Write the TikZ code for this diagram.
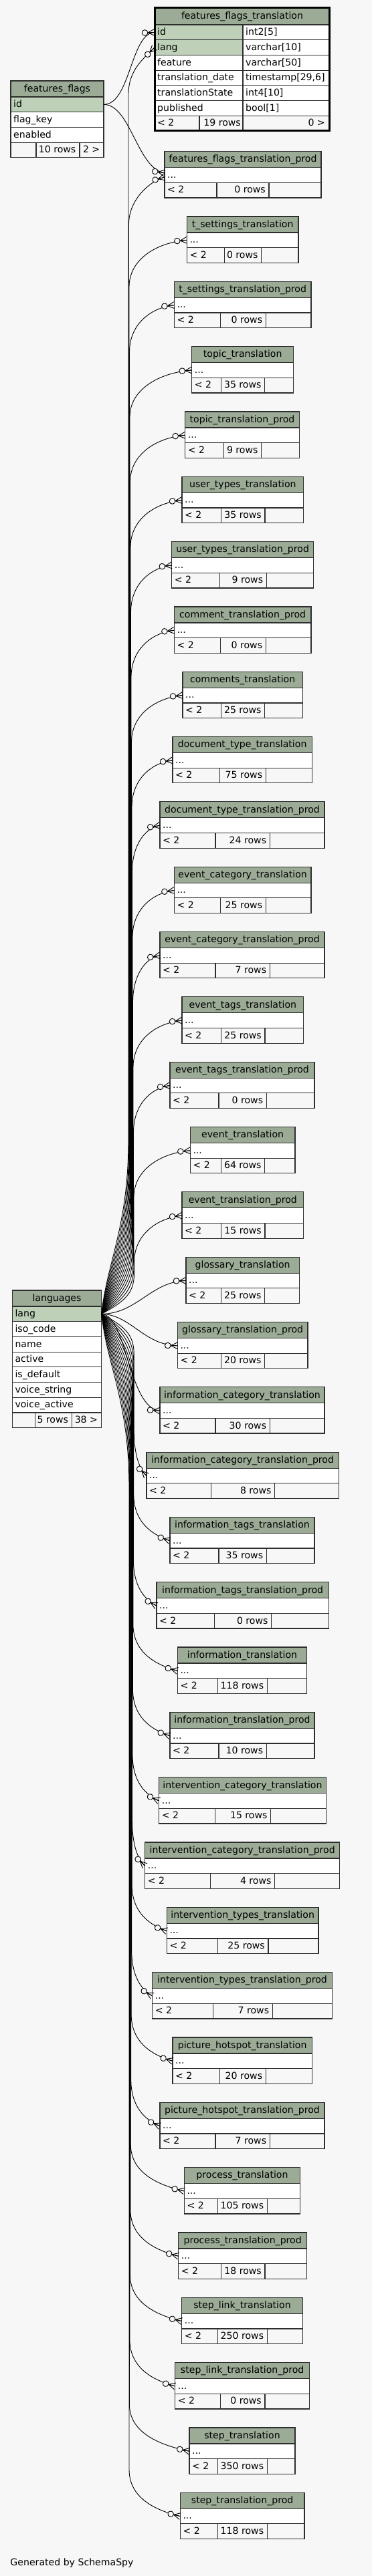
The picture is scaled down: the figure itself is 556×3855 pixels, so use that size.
\documentclass[tikz,border=0pt]{standalone}
\usepackage{fontspec}
\setmainfont{DejaVu Sans}
\usetikzlibrary{calc}
\definecolor{bgc}{HTML}{F7F7F7}
\definecolor{hdr}{HTML}{9BAB96}
\definecolor{pk}{HTML}{BED1B8}
\definecolor{bord}{HTML}{2E2E2E}
\tikzset{
  cell/.style={draw=bord, line width=1.2pt, inner sep=0pt, outer sep=0pt, anchor=north west},
  txt/.style={inner sep=0pt, text=black},
  fkedge/.style={line width=0.9pt, draw=black},
  crowline/.style={line width=0.9pt, draw=black},
}
% crow's foot with open circle at point #1, line direction angle #2 (canvas degrees)
\newcommand\crowmark[2]{%
  \begin{scope}[shift={(#1)}, rotate=#2]
    \draw[crowline] (-10pt,0pt) -- (0pt,5pt) (-10pt,0pt) -- (0pt,-5pt) (-10pt,0pt) -- (0pt,0pt);
    \draw[crowline, fill=bgc] (-14.5pt,0pt) circle (4.3pt);
  \end{scope}%
}
% small table: #1 name #2 title #3 L #4 R #5 d1 #6 d2 #7 k #8 rows
\newcommand\stbl[8]{%
  \pgfmathsetmacro\tbtop{324+97.32*#7}%
  \node[cell, fill=hdr, minimum width={(#4-#3)*1pt}, minimum height=24pt] (#1-t) at (#3,\tbtop) {};
  \node[txt, anchor=base] (#1-tx) at ($(#1-t.center)+(0,4.3)$) {#2};
  \node[cell, fill=white, minimum width={(#4-#3)*1pt}, minimum height=22.65pt] (#1-r) at (#3,\tbtop+24) {};
  \node[txt, anchor=base west] (#1-rx) at ($(#1-r.west)+(4,4.3)$) {...};
  \node[cell, fill=bgc, minimum width={(#5-#3)*1pt}, minimum height=22.65pt] (#1-f1) at (#3,\tbtop+46.65) {};
  \node[cell, fill=bgc, minimum width={(#6-#5)*1pt}, minimum height=22.65pt] (#1-f2) at (#5,\tbtop+46.65) {};
  \node[cell, fill=bgc, minimum width={(#4-#6)*1pt}, minimum height=22.65pt] (#1-f3) at (#6,\tbtop+46.65) {};
  \node[txt, anchor=base west] (#1-f1x) at ($(#1-f1.west)+(4,4.3)$) {< 2};
  \node[txt, anchor=base east] (#1-f2x) at ($(#1-f2.east)+(-5,4.3)$) {#8 rows};
}
% edge from languages upward: #1 name #2 k #3 L
\newcommand\upedge[3]{%
  \pgfmathsetmacro\xb{192+0.5*(#2+2)}%
  \pgfmathsetmacro\yt{359.33+97.32*#2}%
  \pgfmathsetmacro\cx{#3-0.55*(#3-\xb)}%
  \pgfmathsetmacro\ang{atan2(4,#3-\cx)}%
  \pgfmathsetmacro\fanf{(#2+2)/17}%
  \pgfmathsetmacro\fane{1906-200*(1-\fanf)}%
  \pgfmathsetmacro\fanx{160+25*\fanf}%
  \pgfmathsetmacro\fany{1966.3-0.3*(1966.3-\fane)}%
  \pgfmathsetmacro\fanz{1966.3-0.5*(1966.3-\fane)}%
  \draw[fkedge] (lang-r1.east) .. controls (\fanx,\fany) and (\xb,\fanz) .. (\xb,\fane) -- (\xb,\yt+70) .. controls (\xb,\yt+30) and (\cx,\yt+4) .. (#1-r.west);
  \crowmark{#1-r.west}{\ang}
}
\newcommand\downedge[3]{%
  \pgfmathsetmacro\xb{193+0.45*(35-#2)}%
  \pgfmathsetmacro\yt{359.33+97.32*#2}%
  \pgfmathsetmacro\cx{#3-0.55*(#3-\xb)}%
  \pgfmathsetmacro\ang{atan2(-10,#3-\cx)}%
  \pgfmathsetmacro\fanf{(35-#2)/16}%
  \pgfmathsetmacro\fane{2026+200*(1-\fanf)}%
  \pgfmathsetmacro\fanx{160+25*\fanf}%
  \pgfmathsetmacro\fany{1966.3+0.3*(\fane-1966.3)}%
  \pgfmathsetmacro\fanz{1966.3+0.5*(\fane-1966.3)}%
  \draw[fkedge] (lang-r1.east) .. controls (\fanx,\fany) and (\xb,\fanz) .. (\xb,\fane) -- (\xb,\yt-70) .. controls (\xb,\yt-30) and (\cx,\yt-10) .. (#1-r.west);
  \crowmark{#1-r.west}{\ang}
}
% two-column row of features_flags_translation
\newcommand\frow[5]{%
  \node[cell, fill=#5, minimum width=132pt, minimum height=22.7pt] (#1-n) at (231,#2) {};
  \node[cell, fill=white, minimum width=130pt, minimum height=22.7pt] (#1-y) at (363,#2) {};
  \node[txt, anchor=base west] (#1-nx) at ($(#1-n.west)+(4,4.3)$) {#3};
  \node[txt, anchor=base west] (#1-yx) at ($(#1-y.west)+(4,4.3)$) {#4};
}
% single-column row: #1 name #2 x #3 width #4 y #5 text #6 fill
\newcommand\srow[6]{%
  \node[cell, fill=#6, minimum width=#3pt, minimum height=22.7pt] (#1) at (#2,#4) {};
  \node[txt, anchor=base west] (#1-x) at ($(#1.west)+(4,4.3)$) {#5};
}
\begin{document}
\begin{tikzpicture}[x=1pt, y=-1pt, font=\fontsize{14.1}{17}\selectfont]
\path[use as bounding box, fill=bgc] (0,0) rectangle (556,3855);

% features_flags_translation
\node[cell, fill=hdr, minimum width=262pt, minimum height=26pt] (fft-t) at (231,11) {};
\node[txt, anchor=base] (fft-tx) at ($(fft-t.center)+(0,4.3)$) {features\_flags\_translation};
\frow{fft-r1}{37}{id}{int2[5]}{pk}
\frow{fft-r2}{59.7}{lang}{varchar[10]}{pk}
\frow{fft-r3}{82.4}{feature}{varchar[50]}{white}
\frow{fft-r4}{105.1}{translation\_date}{timestamp[29,6]}{white}
\frow{fft-r5}{127.8}{translationState}{int4[10]}{white}
\frow{fft-r6}{150.5}{published}{bool[1]}{white}
\node[cell, fill=bgc, minimum width=67pt, minimum height=22.7pt] (fft-f1) at (231,173.2) {};
\node[cell, fill=bgc, minimum width=65pt, minimum height=22.7pt] (fft-f2) at (298,173.2) {};
\node[cell, fill=bgc, minimum width=130pt, minimum height=22.7pt] (fft-f3) at (363,173.2) {};
\node[txt, anchor=base west] (fft-f1x) at ($(fft-f1.west)+(4,4.3)$) {< 2};
\node[txt, anchor=base east] (fft-f2x) at ($(fft-f2.east)+(-3,4.3)$) {19 rows};
\node[txt, anchor=base east] (fft-f3x) at ($(fft-f3.east)+(-7,4.3)$) {0 >};
\node[draw=black, line width=3pt, inner sep=0pt, outer sep=0pt, anchor=north west, minimum width=261pt, minimum height=184.4pt] (fft-box) at (231.5,11.5) {};

% features_flags
\node[cell, fill=hdr, minimum width=139pt, minimum height=24pt] (ff-t) at (16,121) {};
\node[txt, anchor=base] (ff-tx) at ($(ff-t.center)+(0,4.3)$) {features\_flags};
\srow{ff-r1}{16}{139}{145}{id}{pk}
\srow{ff-r2}{16}{139}{167.7}{flag\_key}{white}
\srow{ff-r3}{16}{139}{190.4}{enabled}{white}
\node[cell, fill=bgc, minimum width=38pt, minimum height=22.7pt] (ff-f1) at (16,213.1) {};
\node[cell, fill=bgc, minimum width=65pt, minimum height=22.7pt] (ff-f2) at (54,213.1) {};
\node[cell, fill=bgc, minimum width=36pt, minimum height=22.7pt] (ff-f3) at (119,213.1) {};
\node[txt, anchor=base east] (ff-f2x) at ($(ff-f2.east)+(-5.5,4.3)$) {10 rows};
\node[txt, anchor=base east] (ff-f3x) at ($(ff-f3.east)+(-5.5,4.3)$) {2 >};

% languages
\node[cell, fill=hdr, minimum width=133.4pt, minimum height=24pt] (lang-t) at (18.3,1931) {};
\node[txt, anchor=base] (lang-tx) at ($(lang-t.center)+(0,4.3)$) {languages};
\srow{lang-r1}{18.3}{133.4}{1955}{lang}{pk}
\srow{lang-r2}{18.3}{133.4}{1977.7}{iso\_code}{white}
\srow{lang-r3}{18.3}{133.4}{2000.4}{name}{white}
\srow{lang-r4}{18.3}{133.4}{2023.1}{active}{white}
\srow{lang-r5}{18.3}{133.4}{2045.8}{is\_default}{white}
\srow{lang-r6}{18.3}{133.4}{2068.5}{voice\_string}{white}
\srow{lang-r7}{18.3}{133.4}{2091.2}{voice\_active}{white}
\node[cell, fill=bgc, minimum width=34pt, minimum height=22.7pt] (lang-f1) at (18.3,2113.9) {};
\node[cell, fill=bgc, minimum width=55.4pt, minimum height=22.7pt] (lang-f2) at (52.3,2113.9) {};
\node[cell, fill=bgc, minimum width=44pt, minimum height=22.7pt] (lang-f3) at (107.7,2113.9) {};
\node[txt, anchor=base east] (lang-f2x) at ($(lang-f2.east)+(-5.5,4.3)$) {5 rows};
\node[txt, anchor=base east] (lang-f3x) at ($(lang-f3.east)+(-5.5,4.3)$) {38 >};

% small tables
\stbl{fftp}{features\_flags\_translation\_prod}{246}{480}{324}{402}{-1}{0}
\stbl{tsT}{t\_settings\_translation}{279.3}{446}{335.7}{390.7}{0}{0}
\stbl{tsP}{t\_settings\_translation\_prod}{260.3}{465}{329.3}{397.3}{1}{0}
\stbl{tpT}{topic\_translation}{286.7}{438.7}{330.7}{395.7}{2}{35}
\stbl{tpP}{topic\_translation\_prod}{276.7}{447.3}{334.3}{390.7}{3}{9}
\stbl{utT}{user\_types\_translation}{272}{453.7}{330.7}{396}{4}{35}
\stbl{utP}{user\_types\_translation\_prod}{256.7}{468.7}{328.3}{398.3}{5}{9}
\stbl{cmP}{comment\_translation\_prod}{260.3}{465}{329.3}{397.3}{6}{0}
\stbl{cmT}{comments\_translation}{273}{452.3}{330.7}{395.7}{7}{25}
\stbl{dtT}{document\_type\_translation}{258}{466.3}{328.3}{397.3}{8}{75}
\stbl{dtP}{document\_type\_translation\_prod}{239}{485}{322}{403.3}{9}{24}
\stbl{ecT}{event\_category\_translation}{260.3}{465}{329.3}{397.3}{10}{25}
\stbl{ecP}{event\_category\_translation\_prod}{239}{485}{322}{403.3}{11}{7}
\stbl{etT}{event\_tags\_translation}{272}{453.7}{330.7}{396}{12}{25}
\stbl{etP}{event\_tags\_translation\_prod}{254}{470}{327}{398.3}{13}{0}
\stbl{evT}{event\_translation}{284.3}{441}{330.7}{395.7}{14}{64}
\stbl{evP}{event\_translation\_prod}{272}{453.7}{330.7}{396}{15}{15}
\stbl{glT}{glossary\_translation}{278}{447.3}{330.7}{395.7}{16}{25}
\stbl{glP}{glossary\_translation\_prod}{265.3}{460}{330.7}{395.7}{17}{20}
\stbl{icT}{information\_category\_translation}{239}{485}{322}{403.3}{18}{30}
\stbl{icP}{information\_category\_translation\_prod}{219}{506.3}{315.3}{410.7}{19}{8}
\stbl{itT}{information\_tags\_translation}{254}{470}{327}{398.3}{20}{35}
\stbl{itP}{information\_tags\_translation\_prod}{234}{491.3}{320.3}{405.7}{21}{0}
\stbl{inT}{information\_translation}{265.3}{458.7}{325.7}{399.3}{22}{118}
\stbl{inP}{information\_translation\_prod}{254}{470}{327}{398.3}{23}{10}
\stbl{vcT}{intervention\_category\_translation}{237.7}{487.3}{321.7}{404.7}{24}{15}
\stbl{vcP}{intervention\_category\_translation\_prod}{216.7}{507.7}{314.3}{410.7}{25}{4}
\stbl{vtT}{intervention\_types\_translation}{249.3}{476}{325.7}{401}{26}{25}
\stbl{vtP}{intervention\_types\_translation\_prod}{227.7}{496.3}{318.3}{407.3}{27}{7}
\stbl{phT}{picture\_hotspot\_translation}{258}{466.3}{328.3}{397.3}{28}{20}
\stbl{phP}{picture\_hotspot\_translation\_prod}{239}{485}{322}{403.3}{29}{7}
\stbl{prT}{process\_translation}{275.3}{448.7}{325.7}{399.3}{30}{105}
\stbl{prP}{process\_translation\_prod}{266.7}{458.7}{330.7}{396}{31}{18}
\stbl{slT}{step\_link\_translation}{271.7}{452.3}{325.7}{399.3}{32}{250}
\stbl{slP}{step\_link\_translation\_prod}{261.7}{462.7}{329.3}{396}{33}{0}
\stbl{stT}{step\_translation}{283}{441}{325.7}{399.3}{34}{350}
\stbl{stP}{step\_translation\_prod}{269.3}{455}{325.7}{399.3}{35}{118}

% edges from features_flags
\draw[fkedge] (ff-r1.east) .. controls (195,156.35) and (195,50) .. (fft-r1-n.west);
\pgfmathsetmacro\ang{atan2(1.65,36)}
\crowmark{fft-r1-n.west}{\ang}
\draw[fkedge] (ff-r1.east) .. controls (195,156.35) and (205,252) .. ($(fftp-r.west)+(0,-3)$);
\pgfmathsetmacro\ang{atan2(-7,41)}
\crowmark{$(fftp-r.west)+(0,-3)$}{\ang}

% edges from languages
\draw[fkedge] (lang-r1.east) .. controls (160,1888.3) and (192,1836.2) .. (192,1706) -- (192,141) .. controls (192,105) and (214,88) .. (fft-r2-n.west);
\pgfmathsetmacro\ang{atan2(16.95,17)}
\crowmark{fft-r2-n.west}{\ang}
\draw[fkedge] (lang-r1.east) .. controls (161.5,1891.8) and (192.5,1842) .. (192.5,1717.8) -- (192.5,335) .. controls (192.5,300) and (222,272) .. ($(fftp-r.west)+(0,3)$);
\pgfmathsetmacro\ang{atan2(7,24)}
\crowmark{$(fftp-r.west)+(0,3)$}{\ang}
\upedge{tsT}{0}{279.3}
\upedge{tsP}{1}{260.3}
\upedge{tpT}{2}{286.7}
\upedge{tpP}{3}{276.7}
\upedge{utT}{4}{272}
\upedge{utP}{5}{256.7}
\upedge{cmP}{6}{260.3}
\upedge{cmT}{7}{273}
\upedge{dtT}{8}{258}
\upedge{dtP}{9}{239}
\upedge{ecT}{10}{260.3}
\upedge{ecP}{11}{239}
\upedge{etT}{12}{272}
\upedge{etP}{13}{254}
\upedge{evT}{14}{284.3}
\upedge{evP}{15}{272}
\draw[fkedge] (lang-r1.east) .. controls (205,1966) and (225,1918) .. (glT-r.west);
\pgfmathsetmacro\ang{atan2(1.55,53)}
\crowmark{glT-r.west}{\ang}
\draw[fkedge] (lang-r1.east) .. controls (195,1967) and (215,2013) .. (glP-r.west);
\pgfmathsetmacro\ang{atan2(-0.75,50.3)}
\crowmark{glP-r.west}{\ang}
\draw[fkedge] (lang-r1.east) .. controls (190,1968) and (192,2108) .. (icT-r.west);
\pgfmathsetmacro\ang{atan2(-3.15,47)}
\crowmark{icT-r.west}{\ang}
\downedge{icP}{19}{219}
\downedge{itT}{20}{254}
\downedge{itP}{21}{234}
\downedge{inT}{22}{265.3}
\downedge{inP}{23}{254}
\downedge{vcT}{24}{237.7}
\downedge{vcP}{25}{216.7}
\downedge{vtT}{26}{249.3}
\downedge{vtP}{27}{227.7}
\downedge{phT}{28}{258}
\downedge{phP}{29}{239}
\downedge{prT}{30}{275.3}
\downedge{prP}{31}{266.7}
\downedge{slT}{32}{271.7}
\downedge{slP}{33}{261.7}
\downedge{stT}{34}{283}
\downedge{stP}{35}{269.3}

\node[txt, anchor=base west] (gen) at (15.3,3839.5) {Generated by SchemaSpy};
\end{tikzpicture}
\end{document}
